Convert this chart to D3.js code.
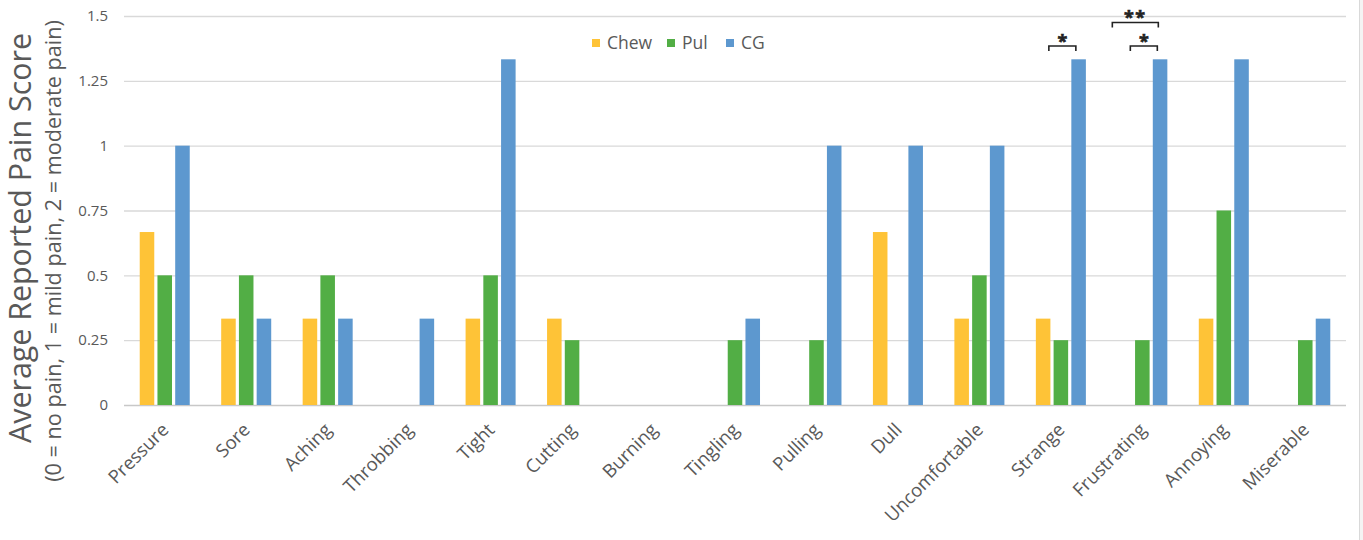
<!DOCTYPE html>
<html>
<head>
<meta charset="utf-8">
<script src="https://cdn.jsdelivr.net/npm/d3@7"></script>
<style>
  html, body { margin: 0; padding: 0; background: #fff; }
  svg { display: block; }
  text { font-family: "Open Sans", sans-serif; fill: #595959; }
</style>
</head>
<body>
<svg id="chart" width="1363" height="540"></svg>
<script>
// Pain descriptors on the x axis
const categories = ["Pressure", "Sore", "Aching", "Throbbing", "Tight", "Cutting", "Burning",
  "Tingling", "Pulling", "Dull", "Uncomfortable", "Strange", "Frustrating", "Annoying", "Miserable"];

// Series names and their average scores per descriptor
const seriesNames = ["Chew", "Pul", "CG"];
const chewValues = [0.667, 0.333, 0.333, 0, 0.333, 0.333, 0, 0, 0, 0.667, 0.333, 0.333, 0, 0.333, 0];
const pulValues  = [0.5, 0.5, 0.5, 0, 0.5, 0.25, 0, 0.25, 0.25, 0, 0.5, 0.25, 0.25, 0.75, 0.25];
const cgValues   = [1.0, 0.333, 0.333, 0.333, 1.333, 0, 0, 0.333, 1.0, 1.0, 1.0, 1.333, 1.333, 1.333, 0.333];

// Y axis ticks
const yTicks = [0, 0.25, 0.5, 0.75, 1, 1.25, 1.5];
const yTickLabels = ["0", "0.25", "0.5", "0.75", "1", "1.25", "1.5"];

// Significance markers: category, span in px relative to group start, label, level
const sigMarks = [
  { cat: "Strange",     from: 13, to: 40, label: "*",  level: 0 },
  { cat: "Frustrating", from: 13, to: 40, label: "*",  level: 0 },
  { cat: "Frustrating", from: -5, to: 41, label: "**", level: 1 }
];

const colors = { Chew: "#FEC337", Pul: "#52AE45", CG: "#5D98CF" };
const seriesData = { Chew: chewValues, Pul: pulValues, CG: cgValues };

const svg = d3.select("#chart");
const plot = { left: 124, right: 1346, top: 16, bottom: 405 };

const x0 = d3.scaleBand()
  .domain(categories)
  .range([plot.left, plot.right])
  .paddingInner(0.386)
  .paddingOuter(0.193);

const x1 = d3.scaleBand()
  .domain(seriesNames)
  .range([0, x0.bandwidth()])
  .paddingInner(0.18);

const y = d3.scaleLinear().domain([0, 1.5]).range([plot.bottom, plot.top]);

// right edge frame
svg.append("rect").attr("x", 1360).attr("y", 0).attr("width", 3).attr("height", 540).attr("fill", "#f4f4f4");
svg.append("line").attr("x1", 1359.5).attr("x2", 1359.5).attr("y1", 0).attr("y2", 540)
  .attr("stroke", "#d9d9d9").attr("stroke-width", 1);

// gridlines + y labels via axis
const yAxis = d3.axisLeft(y)
  .tickValues(yTicks)
  .tickFormat((d, i) => yTickLabels[i])
  .tickSize(-(plot.right - plot.left))
  .tickPadding(16);

const gy = svg.append("g").attr("transform", `translate(${plot.left},0)`).call(yAxis);
gy.select(".domain").remove();
gy.selectAll(".tick line")
  .attr("stroke", (d) => d === 0 ? "#c8c8c8" : "#d9d9d9")
  .attr("stroke-width", 1.3);
gy.selectAll(".tick text")
  .attr("font-size", 15)
  .attr("font-family", "'Open Sans', sans-serif")
  .attr("fill", "#595959");

// bars
const groups = svg.append("g").selectAll("g")
  .data(categories)
  .join("g")
  .attr("transform", (d) => `translate(${x0(d)},0)`);

groups.selectAll("rect")
  .data((c, i) => seriesNames.map((s) => ({ s, v: seriesData[s][i] })))
  .join("rect")
  .attr("x", (d) => x1(d.s))
  .attr("width", x1.bandwidth())
  .attr("y", (d) => y(d.v))
  .attr("height", (d) => y(0) - y(d.v))
  .attr("fill", (d) => colors[d.s]);

// x axis labels, rotated
const xAxis = d3.axisBottom(x0).tickSize(0).tickPadding(0);
const gx = svg.append("g").attr("transform", `translate(0,${plot.bottom})`).call(xAxis);
gx.select(".domain").remove();
gx.selectAll(".tick text")
  .attr("font-size", 18.5)
  .attr("font-family", "'Open Sans', sans-serif")
  .attr("fill", "#595959")
  .attr("text-anchor", "end")
  .attr("dy", null)
  .attr("y", 0)
  .attr("transform", "translate(5,26) rotate(-45)");

// legend
const legendItems = [
  { name: "Chew", x: 592 },
  { name: "Pul", x: 667 },
  { name: "CG", x: 726 }
];
const lg = svg.append("g");
legendItems.forEach((it) => {
  lg.append("rect").attr("x", it.x).attr("y", 39).attr("width", 8).attr("height", 8).attr("fill", colors[it.name]);
  lg.append("text").attr("x", it.x + 15).attr("y", 49).attr("font-size", 17.5).text(it.name);
});

// significance brackets
const sg = svg.append("g");
sigMarks.forEach((m) => {
  const gs = x0(m.cat);
  const xa = gs + m.from, xb = gs + m.to;
  const yl = m.level === 0 ? 46 : 22.5;
  sg.append("path")
    .attr("d", `M${xa},${yl + 5}V${yl}H${xb}V${yl + 5}`)
    .attr("fill", "none").attr("stroke", "#222").attr("stroke-width", 1.6);
  sg.append("text")
    .attr("x", (xa + xb) / 2)
    .attr("y", m.level === 0 ? yl + 2 : yl + 1)
    .attr("text-anchor", "middle")
    .attr("font-size", 18)
    .attr("font-family", "'DejaVu Sans', sans-serif")
    .attr("font-weight", "bold")
    .attr("letter-spacing", m.label.length > 1 ? 1.5 : 0)
    .style("fill", "#222")
    .style("stroke", "#222")
    .style("stroke-width", 0.6)
    .text(m.label);
});

// y axis titles, sized to span their intended lengths
function fitText(sel, targetLen) {
  const node = sel.node();
  const base = +sel.attr("font-size");
  const len = node.getComputedTextLength();
  if (len > 0) sel.attr("font-size", (base * targetLen / len).toFixed(2));
}

const title = svg.append("text")
  .attr("transform", "translate(31,238) rotate(-90)")
  .attr("text-anchor", "middle")
  .attr("font-size", 28)
  .text("Average Reported Pain Score");
fitText(title, 410);

const subtitle = svg.append("text")
  .attr("transform", "translate(61,251) rotate(-90)")
  .attr("text-anchor", "middle")
  .attr("font-size", 18)
  .text("(0 = no pain, 1 = mild pain, 2 = moderate pain)");
fitText(subtitle, 462);
</script>
</body>
</html>
